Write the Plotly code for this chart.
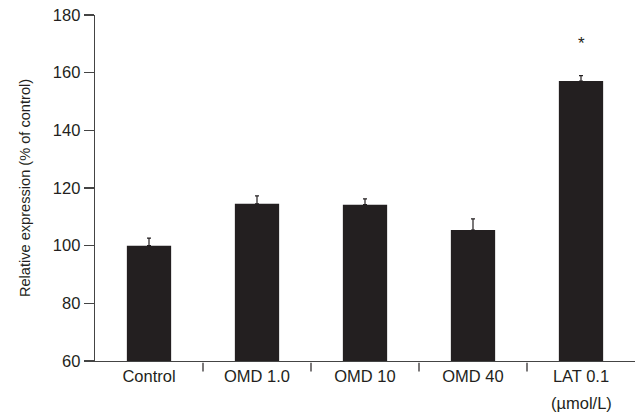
import plotly.graph_objects as go

categories = ["Control", "OMD 1.0", "OMD 10", "OMD 40", "LAT 0.1"]
values = [100.0, 114.5, 114.2, 105.4, 157.1]
errors = [2.6, 2.8, 2.0, 3.9, 1.9]
y_ticks = [60, 80, 100, 120, 140, 160, 180]
unit_label = "(\u00b5mol/L)"
star_label = "*"
star_index = 4

ink = "#231f20"
fam = "Liberation Sans, Arial, sans-serif"
tick_font = dict(family=fam, size=16.5, color=ink)
title_font = dict(family=fam, size=14.6, color=ink)

W, H = 641, 414

fig = go.Figure()
fig.add_trace(go.Bar(
    x=list(range(len(categories))), y=values,
    width=0.41,
    marker=dict(color=ink, line=dict(width=0)),
    error_y=dict(type="data", array=errors, arrayminus=[0]*len(errors),
                 symmetric=False, color=ink, thickness=1.2, width=2),
    hoverinfo="skip",
))

# separator ticks between categories
for i in range(len(categories) - 1):
    fig.add_shape(type="line", xref="x", yref="paper",
                  x0=i + 0.5, x1=i + 0.5, y0=-0.005, y1=-0.03,
                  line=dict(color=ink, width=1.2))

fig.add_annotation(x=star_index, y=values[star_index] + errors[star_index],
                   xref="x", yref="y", text=star_label, showarrow=False,
                   yanchor="middle", yshift=32, font=dict(family=fam, size=17, color=ink))
fig.add_annotation(x=star_index, y=0, xref="x", yref="paper", text=unit_label,
                   showarrow=False, yanchor="middle", yshift=-42, font=tick_font)

fig.update_layout(
    width=W, height=H,
    margin=dict(l=95, r=6, t=15, b=53, autoexpand=False),
    paper_bgcolor="white", plot_bgcolor="white",
    font=tick_font, showlegend=False,
    xaxis=dict(range=[-0.5, 4.5], tickmode="array",
               tickvals=list(range(len(categories))), ticktext=categories,
               showline=True, linecolor="#444", linewidth=1.3,
               ticks="", showgrid=False, zeroline=False, fixedrange=True,
               tickfont=tick_font),
    yaxis=dict(range=[60, 180], tickmode="array", tickvals=y_ticks,
               ticksuffix="\u00a0",
               showline=True, linecolor="#444", linewidth=1.3,
               ticks="outside", ticklen=10, tickcolor="#444", tickwidth=1.3,
               ticklabeloverflow="allow", fixedrange=True,
               showgrid=False, zeroline=False, tickfont=tick_font,
               title=dict(text="Relative expression (% of control)", font=title_font, standoff=18)),
)

fig.write_html("out.html", config={"displayModeBar": False, "staticPlot": True},
               post_script="document.body.style.margin='0';document.body.style.padding='0';")
